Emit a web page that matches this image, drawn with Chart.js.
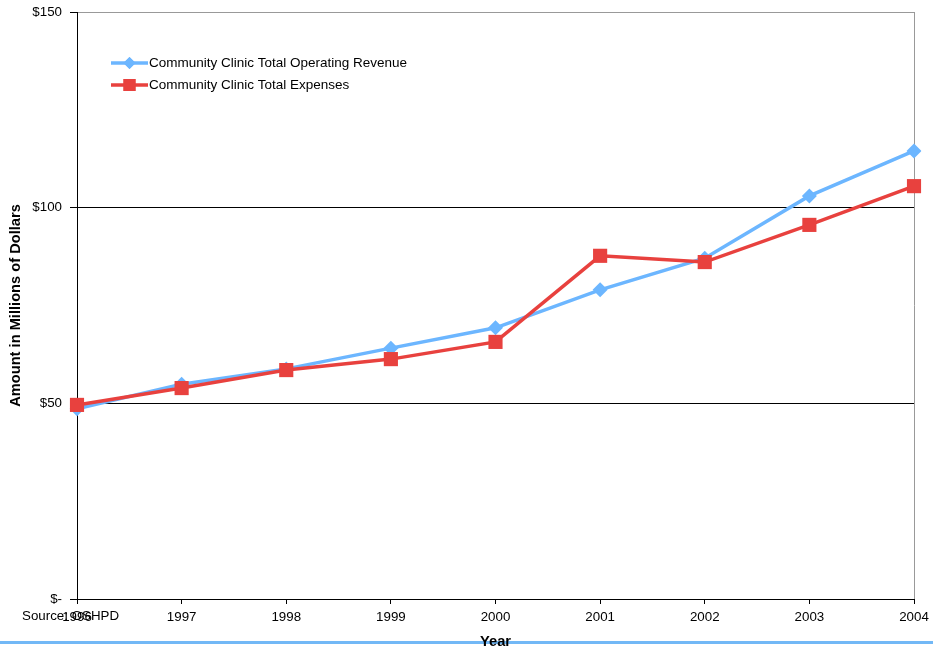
<!DOCTYPE html>
<html>
<head>
<meta charset="utf-8">
<script src="https://cdn.jsdelivr.net/npm/chart.js@4/dist/chart.umd.min.js"></script>
<style>
html,body{margin:0;padding:0;background:#fff;}
#wrap{width:933px;height:649px;position:relative;}
</style>
</head>
<body>
<div id="wrap"><canvas id="c" width="933" height="649"></canvas></div>
<script>
const years = ['1996','1997','1998','1999','2000','2001','2002','2003','2004'];
const revenue = [48.6, 54.9, 58.8, 64.1, 69.3, 79.0, 87.1, 103.0, 114.5];
const expenses = [49.6, 53.9, 58.5, 61.3, 65.7, 87.7, 86.1, 95.6, 105.5];
const yTicks = [0, 50, 100, 150];
const revenueLabel = 'Community Clinic Total Operating Revenue';
const expensesLabel = 'Community Clinic Total Expenses';
const sourceNote = 'Source: OSHPD';

const BLUE = '#6cb6ff';
const RED = '#e8413e';
const FONT = 'Arial, "Liberation Sans", sans-serif';
const TICK_SIZE = 13.33;

const extras = {
  id: 'extras',
  beforeDraw(chart) {
    const ctx = chart.ctx;
    ctx.save();
    ctx.fillStyle = '#fff';
    ctx.fillRect(0, 0, chart.width, chart.height);
    ctx.strokeStyle = '#72b8f6';
    ctx.lineWidth = 3;
    ctx.beginPath();
    ctx.moveTo(0, 642.5);
    ctx.lineTo(chart.width, 642.5);
    ctx.stroke();
    ctx.restore();
  },
  afterDraw(chart) {
    const ctx = chart.ctx;
    ctx.save();
    ctx.font = TICK_SIZE + 'px ' + FONT;
    ctx.fillStyle = '#000';
    ctx.textBaseline = 'middle';
    ctx.textAlign = 'left';
    ctx.fillText(sourceNote, 22, 616.5);
    const items = [
      {label: revenueLabel, color: BLUE, style: 'rectRot', r: 6, y: 63},
      {label: expensesLabel, color: RED, style: 'rect', r: 8.5, y: 85}
    ];
    items.forEach(it => {
      ctx.strokeStyle = it.color;
      ctx.lineWidth = 3.5;
      ctx.beginPath();
      ctx.moveTo(111, it.y);
      ctx.lineTo(148, it.y);
      ctx.stroke();
      ctx.fillStyle = it.color;
      Chart.helpers.drawPoint(ctx, {pointStyle: it.style, radius: it.r, borderWidth: 0}, 129.5, it.y);
      ctx.fill();
      ctx.fillStyle = '#000';
      ctx.font = '13.5px ' + FONT;
      ctx.fillText(it.label, 149, it.y + 0.5);
    });
    ctx.restore();
  }
};

new Chart(document.getElementById('c'), {
  type: 'line',
  data: {
    labels: years,
    datasets: [
      {label: revenueLabel, data: revenue, borderColor: BLUE, backgroundColor: BLUE,
       borderWidth: 3.5, pointStyle: 'rectRot', pointRadius: 7.5, pointBorderWidth: 0,
       pointBackgroundColor: BLUE, tension: 0, order: 1},
      {label: expensesLabel, data: expenses, borderColor: RED, backgroundColor: RED,
       borderWidth: 3.5, pointStyle: 'rect', pointRadius: 10, pointBorderWidth: 0,
       pointBackgroundColor: RED, tension: 0, order: 0}
    ]
  },
  options: {
    responsive: false,
    animation: false,
    devicePixelRatio: 1,
    layout: {padding: {top: 12, right: 19, left: 0, bottom: 0}},
    plugins: {legend: {display: false}, tooltip: {enabled: false}},
    scales: {
      x: {
        offset: false,
        afterFit(axis) { axis.height = 50; axis.paddingLeft = 0; axis.paddingRight = 0; },
        border: {display: true, color: '#000', width: 1},
        grid: {
          color: ctx => ctx.index === years.length - 1 ? '#999' : 'rgba(0,0,0,0)',
          tickColor: '#000', tickLength: 5, drawOnChartArea: true
        },
        ticks: {color: '#000', font: {family: FONT, size: TICK_SIZE}, padding: 5, maxRotation: 0, autoSkip: false},
        title: {display: true, text: 'Year', color: '#000', font: {family: FONT, size: 14.67, weight: 'bold'}, padding: {top: 0, bottom: -2}}
      },
      y: {
        min: 0, max: 150,
        afterFit(axis) { axis.width = 77; axis.paddingTop = 0; axis.paddingBottom = 0; },
        afterBuildTicks(axis) { axis.ticks = yTicks.map(v => ({value: v})); },
        border: {display: true, color: '#000', width: 1},
        grid: {
          color: ctx => (ctx.tick && ctx.tick.value === 150) ? '#999' : '#000',
          tickColor: '#000', tickLength: 7, drawOnChartArea: true
        },
        ticks: {
          color: '#000', font: {family: FONT, size: TICK_SIZE}, padding: 8,
          callback: v => v === 0 ? '$-' : '$' + v
        },
        title: {display: true, text: 'Amount in Millions of Dollars', color: '#000', font: {family: FONT, size: 14.67, weight: 'bold'}, padding: {top: 7, bottom: 0}}
      }
    }
  },
  plugins: [extras]
});
</script>
</body>
</html>
